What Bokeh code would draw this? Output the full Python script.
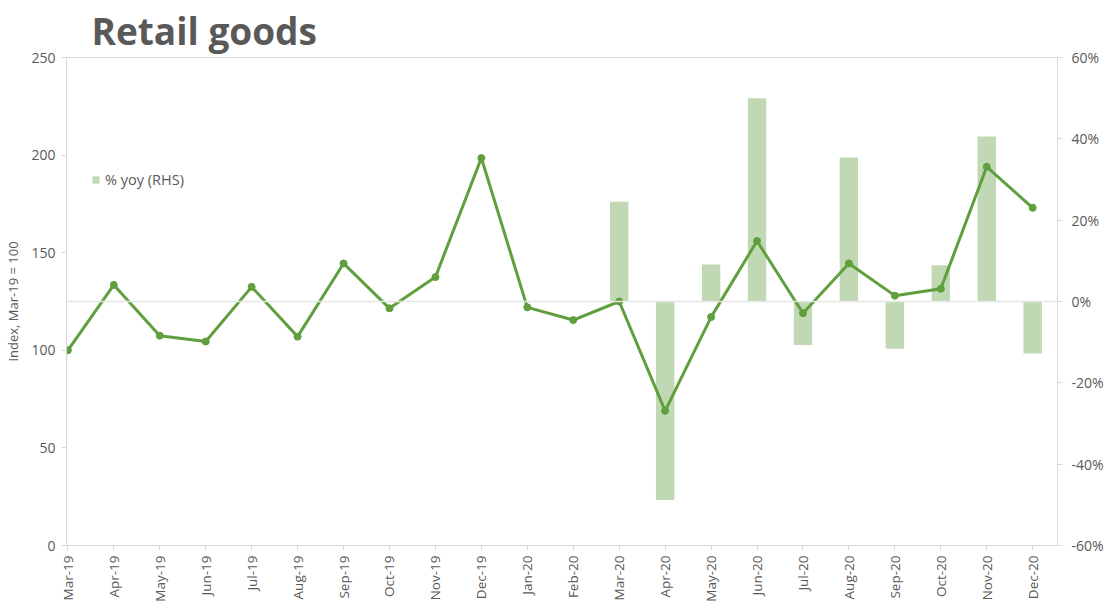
import math
from bokeh.plotting import figure
from bokeh.models import Range1d, LinearAxis, FixedTicker, NumeralTickFormatter, Legend, LegendItem, Span
from bokeh.embed import file_html
from bokeh.resources import INLINE

months = ["Mar-19", "Apr-19", "May-19", "Jun-19", "Jul-19", "Aug-19", "Sep-19", "Oct-19",
          "Nov-19", "Dec-19", "Jan-20", "Feb-20", "Mar-20", "Apr-20", "May-20", "Jun-20",
          "Jul-20", "Aug-20", "Sep-20", "Oct-20", "Nov-20", "Dec-20"]
index_values = [100, 133.5, 107.5, 104.5, 132.5, 107, 144.5, 121.5, 137.5, 198.5, 122, 115.5,
                125, 69, 117, 156, 119, 144.5, 128, 131.5, 194, 173]
yoy_months = ["Mar-20", "Apr-20", "May-20", "Jun-20", "Jul-20", "Aug-20", "Sep-20", "Oct-20", "Nov-20", "Dec-20"]
yoy_values = [0.245, -0.488, 0.091, 0.50, -0.107, 0.354, -0.116, 0.089, 0.406, -0.128]
title_text = "Retail goods"

LINE = "#5f9f3d"
BAR = "#c0d8b3"
GREY = "#595959"
AXIS = "#d9d9d9"
FONT = "Open Sans"

xs = list(range(len(months)))
bar_x = [months.index(m) for m in yoy_months]

p = figure(width=1112, height=615, output_backend="svg", toolbar_location=None,
           x_range=Range1d(-0.03, 21.54), y_range=Range1d(0, 250),
           min_border_left=66, min_border_right=55, min_border_top=57, min_border_bottom=70)
p.extra_y_ranges = {"pct": Range1d(-0.6, 0.6)}

p.outline_line_color = AXIS
p.xgrid.visible = False
p.ygrid.visible = False
p.background_fill_color = "white"
p.border_fill_color = "white"

p.title.text = title_text
p.title.text_font = FONT
p.title.text_font_size = "37px"
p.title.text_font_style = "bold"
p.title.text_color = GREY
p.title.offset = 25
p.title.standoff = 0
p.title.vertical_align = "top"
p.title.text_line_height = 0.75

# zero line of secondary axis
p.add_layout(Span(location=0, dimension="width", y_range_name="pct", line_color="#e6e6e6", line_width=1.5))

bars = p.vbar(x=bar_x, top=yoy_values, bottom=0, width=0.4, y_range_name="pct",
              fill_color=BAR, line_color=None)
p.line(xs, index_values, line_color=LINE, line_width=3)
p.scatter(xs, index_values, size=7, fill_color=LINE, line_color=LINE)

# axes styling
xa = p.xaxis[0]
xa.ticker = FixedTicker(ticks=xs)
xa.major_label_overrides = {i: m for i, m in enumerate(months)}
xa.major_label_orientation = math.pi / 2
xa.major_label_text_font = FONT
xa.major_label_text_font_size = "13.5px"
xa.major_label_text_color = GREY
xa.axis_line_color = AXIS
xa.major_tick_line_color = AXIS
xa.major_tick_out = 5
xa.major_tick_in = 0
xa.minor_tick_line_color = None
xa.major_label_standoff = 5

ya = p.yaxis[0]
ya.ticker = FixedTicker(ticks=[0, 50, 100, 150, 200, 250])
ya.axis_label = "Index, Mar-19 = 100"
ya.axis_label_text_font = FONT
ya.axis_label_text_font_size = "13px"
ya.axis_label_text_font_style = "normal"
ya.axis_label_text_color = GREY
ya.axis_label_standoff = 6
ya.major_label_text_font = FONT
ya.major_label_text_font_size = "14px"
ya.major_label_text_color = GREY
ya.axis_line_color = AXIS
ya.major_tick_line_color = AXIS
ya.major_tick_out = 5
ya.major_tick_in = 0
ya.minor_tick_line_color = None
ya.major_label_standoff = 6

ra = LinearAxis(y_range_name="pct", ticker=FixedTicker(ticks=[-0.6, -0.4, -0.2, 0, 0.2, 0.4, 0.6]),
                formatter=NumeralTickFormatter(format="0%"))
ra.major_label_text_font = FONT
ra.major_label_text_font_size = "14px"
ra.major_label_text_color = GREY
ra.axis_line_color = AXIS
ra.major_tick_line_color = AXIS
ra.major_tick_out = 5
ra.major_tick_in = 0
ra.minor_tick_line_color = None
ra.major_label_standoff = 9
p.add_layout(ra, "right")

legend = Legend(items=[LegendItem(label="% yoy (RHS)", renderers=[bars])],
                location=(25, 356), orientation="vertical",
                border_line_color=None, background_fill_alpha=0,
                label_text_font=FONT, label_text_font_size="14.5px", label_text_color=GREY,
                glyph_width=9, glyph_height=9, label_standoff=5, padding=0, margin=0)
p.add_layout(legend, "center")

open("out.html", "w").write(file_html(p, INLINE))
